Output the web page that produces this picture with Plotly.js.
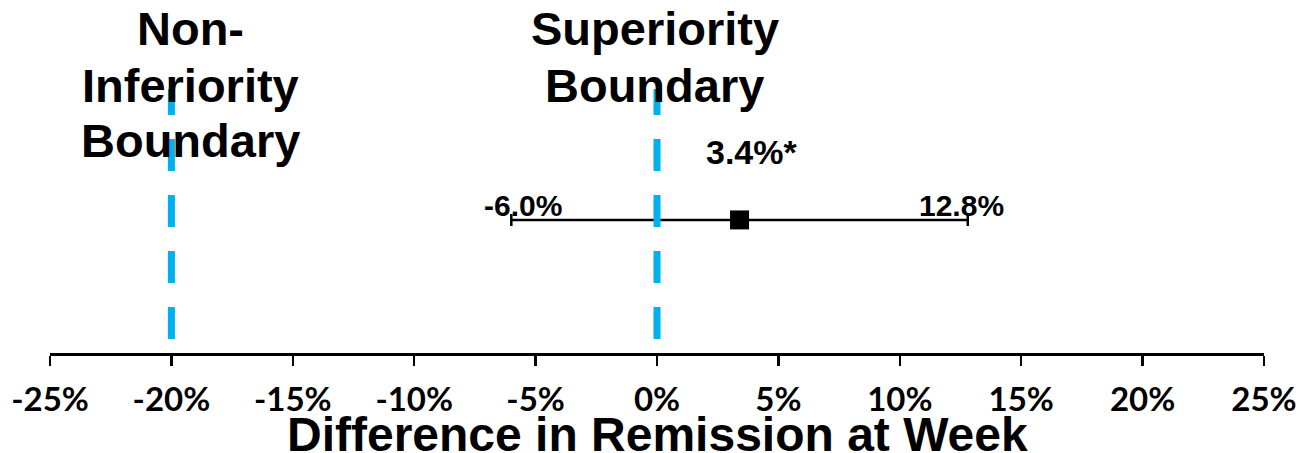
<!DOCTYPE html>
<html>
<head>
<meta charset="utf-8">
<script src="https://cdn.plot.ly/plotly-3.0.1.min.js"></script>
<style>
  html, body { margin: 0; padding: 0; background: #ffffff; }
  #chart { width: 1301px; height: 453px; }
</style>
</head>
<body>
<div id="chart"></div>
<script>
// Treatment difference in remission rate (percentage points) with its 95% CI
const estimate = [3.4];
const ciLower = [-6.0];
const ciUpper = [12.8];
const estimateLabel = ['3.4%*'];
const lowerLabel = ['-6.0%'];
const upperLabel = ['12.8%'];

// Decision boundaries
const boundaryX = [-20, 0];
const boundaryNames = [['Non-', 'Inferiority', 'Boundary'], ['Superiority', 'Boundary']];

// Axis ticks and title
const tickValues = [-25, -20, -15, -10, -5, 0, 5, 10, 15, 20, 25];
const tickLabels = ['-25%', '-20%', '-15%', '-10%', '-5%', '0%', '5%', '10%', '15%', '20%', '25%'];
const axisTitle = 'Difference in Remission at Week';

const ROW_Y = 0.377;      // vertical position of the single forest-plot row
const LINE_TOP = 0.748;   // top of the boundary lines
const BLUE = '#00B0F0';
const ARIAL = 'Liberation Sans, Arial, sans-serif';
const TICKFONT = 'Lato, Calibri, sans-serif';

const traces = [{
  type: 'scatter',
  mode: 'markers',
  x: estimate,
  y: [ROW_Y],
  marker: { symbol: 'square', size: 19, color: '#000000' },
  error_x: {
    type: 'data',
    symmetric: false,
    array: estimate.map((v, i) => ciUpper[i] - v),
    arrayminus: estimate.map((v, i) => v - ciLower[i]),
    color: '#000000',
    thickness: 2.5,
    width: 6
  },
  cliponaxis: false,
  hoverinfo: 'skip',
  showlegend: false
}];

boundaryX.forEach(bx => {
  traces.push({
    type: 'scatter',
    mode: 'lines',
    x: [bx, bx],
    y: [LINE_TOP, 0],
    line: { color: BLUE, width: 7, dash: '26px,24px,32px,24px,32px,24px,32px,24px,32px,24px' },
    cliponaxis: false,
    hoverinfo: 'skip',
    showlegend: false
  });
});

const annotations = [];
// Boundary captions, one line each
const captionY = [[0.918, 0.759, 0.603], [0.918, 0.759]];
const captionX = [-19.2, -0.1];
boundaryNames.forEach((lines, k) => {
  lines.forEach((t, j) => {
    annotations.push({
      text: t, x: captionX[k], xref: 'x', y: captionY[k][j], yref: 'paper',
      xanchor: 'center', yanchor: 'middle', showarrow: false,
      font: { family: ARIAL, size: 47, color: '#000000', weight: 'bold' }
    });
  });
});
// Estimate and interval labels
annotations.push({
  text: estimateLabel[0], x: estimate[0], xref: 'x', y: 0.569, yref: 'y',
  xanchor: 'center', yanchor: 'middle', xshift: 12, showarrow: false,
  font: { family: ARIAL, size: 34, color: '#000000', weight: 'bold' }
});
annotations.push({
  text: lowerLabel[0], x: ciLower[0], xref: 'x', y: 0.419, yref: 'y',
  xanchor: 'center', yanchor: 'middle', xshift: 12, showarrow: false,
  font: { family: ARIAL, size: 30, color: '#000000', weight: 'bold' }
});
annotations.push({
  text: upperLabel[0], x: ciUpper[0], xref: 'x', y: 0.419, yref: 'y',
  xanchor: 'center', yanchor: 'middle', xshift: -6, showarrow: false,
  font: { family: ARIAL, size: 30, color: '#000000', weight: 'bold' }
});
// Axis title, set just below the tick labels
annotations.push({
  text: axisTitle, x: 0.5, xref: 'paper', y: -0.151, yref: 'paper',
  xanchor: 'center', yanchor: 'top', showarrow: false,
  font: { family: ARIAL, size: 48, color: '#000000', weight: 'bold' }
});

const layout = {
  width: 1301,
  height: 453,
  margin: { l: 50, r: 37, t: 0, b: 100 },
  paper_bgcolor: '#ffffff',
  plot_bgcolor: '#ffffff',
  showlegend: false,
  xaxis: {
    range: [-25, 25],
    tickmode: 'array',
    tickvals: tickValues,
    ticktext: tickLabels,
    ticks: 'outside',
    ticklen: 10,
    tickwidth: 2.5,
    tickcolor: '#000000',
    showline: true,
    linecolor: '#000000',
    linewidth: 2.5,
    showgrid: false,
    zeroline: false,
    ticklabelstandoff: 6,
    tickfont: { family: TICKFONT, size: 33, color: '#000000', weight: 'bold' },
    fixedrange: true
  },
  yaxis: {
    range: [0, 1],
    visible: false,
    showgrid: false,
    zeroline: false,
    fixedrange: true
  },
  annotations: annotations
};

Plotly.newPlot('chart', traces, layout, { staticPlot: true, displayModeBar: false });
</script>
</body>
</html>
